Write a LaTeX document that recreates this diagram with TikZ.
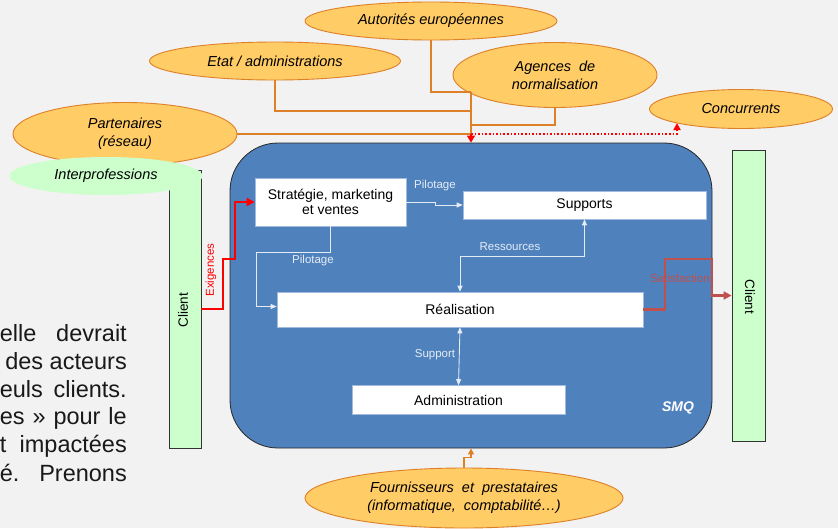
\documentclass[tikz,border=0pt]{standalone}
\usepackage{fontspec}
\setmainfont{Liberation Sans}
\usetikzlibrary{shapes.geometric,arrows.meta,calc}
\definecolor{bg}{RGB}{242,242,242}
\definecolor{orfill}{RGB}{255,204,102}
\definecolor{ordraw}{RGB}{222,128,40}
\definecolor{smqblue}{RGB}{79,129,189}
\definecolor{cgreen}{RGB}{204,255,204}
\definecolor{satred}{RGB}{192,80,77}
\definecolor{wcol}{RGB}{228,236,246}
\definecolor{boxedge}{RGB}{160,185,220}
\begin{document}
\begin{tikzpicture}[x=1pt,y=-1pt,
  oval/.style={ellipse,draw=ordraw,fill=orfill,line width=0.9pt,inner sep=0pt,
    font=\fontsize{14.5}{18}\selectfont\itshape,align=center},
  wbox/.style={rectangle,fill=white,draw=boxedge,line width=0.6pt,inner sep=0pt,
    font=\fontsize{14}{16}\selectfont,align=center},
  clientbox/.style={rectangle,fill=cgreen,draw=black!80,line width=0.8pt,inner sep=0pt},
  clienttxt/.style={font=\fontsize{13.5}{16}\selectfont,inner sep=0pt},
  oline/.style={draw=ordraw,line width=1.3pt},
  wconn/.style={draw=wcol,line width=0.9pt,-{Triangle[length=6pt,width=5pt]}},
  wboth/.style={draw=wcol,line width=0.9pt,{Triangle[length=6pt,width=5pt]}-{Triangle[length=6pt,width=5pt]}},
  lbl/.style={text=wcol,font=\fontsize{11.5}{13}\selectfont,inner sep=0pt},
  para/.style={font=\fontsize{23.5}{28}\selectfont,anchor=base east,inner sep=0pt,text=black!90}
]
\useasboundingbox (0,0) rectangle (838,528);
\fill[bg] (0,0) rectangle (838,528);
\clip (0,0) rectangle (838,528);

% paragraph fragments
\node[para] (p1) at (127,341.5) {\makebox[127pt][s]{elle devrait}};
\node[para] (p2) at (127,369) {des acteurs};
\node[para] (p3) at (127,397) {\makebox[127pt][s]{euls clients.}};
\node[para] (p4) at (127,424.5) {\makebox[127pt][s]{es » pour le}};
\node[para] (p5) at (127,452.5) {\makebox[127pt][s]{t impactées}};
\node[para] (p6) at (127,481) {\makebox[127pt][s]{é. Prenons}};

% ellipses
\node[oval,minimum width=252pt,minimum height=38pt] (autor) at (431,21) {Autorités européennes};
\node[oval,minimum width=251pt,minimum height=38pt] (etat) at (275,61) {Etat / administrations};
\node[oval,minimum width=204pt,minimum height=65pt] (agences) at (555,75) {Agences\ \ de\\normalisation};
\node[oval,minimum width=183pt,minimum height=39pt] (conc) at (741,109) {Concurrents};
\node[oval,minimum width=224pt,minimum height=63pt] (parten) at (125,134) {Partenaires\\(réseau)};
\node[oval,minimum width=318pt,minimum height=60pt] (fourn) at (464,498) {Fournisseurs\ \ et\ \ prestataires\\(informatique,\ \ comptabilité…)};

% orange connectors
\coordinate (hubtop) at (471,92);
\coordinate (hubbot) at (471,134);
\draw[oline] (etat.south) |- (471,111);
\draw[oline] (autor.south) |- (hubtop);
\draw[oline] (agences.south) |- (471,125);
\draw[oline] (parten.east) -- (parten.east -| hubbot);
\draw[oline] (hubtop) -- (471,136);

% SMQ box
\node[draw=black!85,fill=smqblue,rounded corners=48pt,minimum width=482pt,minimum height=305pt,line width=0.8pt] (smq) at (471,295.5) {};
\node[text=white,font=\fontsize{14}{16}\selectfont\bfseries\itshape,inner sep=0pt] (smqlbl) at (678,408) {SMQ};

% red arrows to/from hub
\draw[red,line width=1.2pt,-{Triangle[length=7pt,width=8pt]}] (hubbot) -- (smq.north);
\coordinate (concpt) at (677,134);
\draw[red,line width=1.6pt,dotted,-{Triangle[length=7pt,width=7pt]}] (hubbot) -- (concpt) -- (677,123);

% supplier connector
\draw[oline,-{Triangle[length=6pt,width=6pt]}] (fourn.north) -- ++(0,-10) -| (smq.south);

% white boxes
\node[wbox,minimum width=151pt,minimum height=48pt] (strat) at (330.5,202) {Stratégie, marketing\\[-1pt]et ventes};
\node[wbox,minimum width=243pt,minimum height=28pt] (supp) at (584.5,205) {Supports};
\node[wbox,minimum width=366pt,minimum height=35pt] (real) at (460,309.5) {Réalisation};
\node[wbox,minimum width=213pt,minimum height=29pt] (admin) at (458.5,400) {Administration};

% white connectors
\draw[wconn] (strat.east) -- ++(29,0) |- (supp.west);
\node[lbl] (pil1) at (435,186) {Pilotage};
\draw[wconn] (strat.south) |- (256,252) |- ([yshift=3pt]real.west);
\node[lbl] (pil2) at (313,261) {Pilotage};
\draw[wboth] (supp.south) -- ++(0,37) -| (real.north);
\node[lbl] (ress) at (510,247) {Ressources};
\draw[wboth] (real.south) -- (admin.north);
\node[lbl] (supl) at (435,355) {Support};

% client boxes
\node[clientbox,minimum width=32pt,minimum height=278pt] (clientL) at (185,309) {};
\node[clienttxt,rotate=90] (clientLt) at (183,310) {Client};
\node[clientbox,minimum width=33pt,minimum height=291pt] (clientR) at (748.5,295.5) {};
\node[clienttxt,rotate=-90] (clientRt) at (750,297) {Client};

\node[ellipse,fill=cgreen,inner sep=0pt,minimum width=193pt,minimum height=38pt,
  font=\fontsize{14.5}{18}\selectfont\itshape] (interp) at (106,176) {Interprofessions};

% Exigences
\node[rotate=90,text=red,font=\fontsize{11.5}{13}\selectfont,inner sep=0pt] (exiglbl) at (211,270) {Exigences};
\draw[red,line width=2.8pt,-{Triangle[length=8pt,width=8pt]}] (clientL.east) -| (223,259) -- (235,259) |- (strat.west);

% Satisfaction
\node[text=satred,font=\fontsize{11.5}{13}\selectfont,inner sep=0pt] (satlbl) at (680,278) {Satisfaction};
\draw[satred,line width=2.8pt,-{Triangle[length=8pt,width=8pt]}] (real.east) -| (665,259) -- (712,259) |- (clientR.west);
\end{tikzpicture}
\end{document}
